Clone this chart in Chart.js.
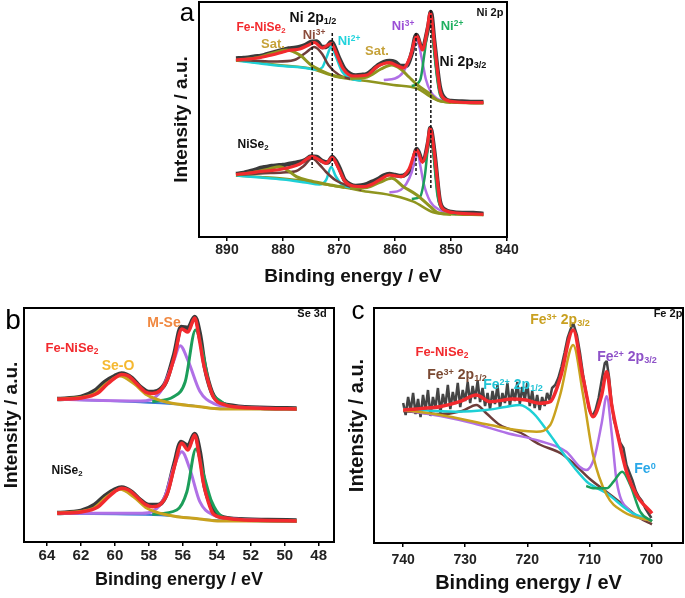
<!DOCTYPE html>
<html>
<head>
<meta charset="utf-8">
<script src="https://cdn.jsdelivr.net/npm/chart.js@4.4.1/dist/chart.umd.min.js"></script>
<style>
  html, body { margin: 0; padding: 0; background: #fff; }
  #wrap { position: relative; width: 685px; height: 598px; overflow: hidden; background: #fff; }
  canvas { position: absolute; }
  .lbl { position: absolute; transform: translate(-50%, -50%); white-space: nowrap; line-height: 1;
         font-family: 'Liberation Sans', Arial, sans-serif; font-weight: bold; }
  .lbl sup { font-size: 0.65em; vertical-align: 0.45em; }
  .lbl sub { font-size: 0.65em; vertical-align: -0.25em; }
  .big { font-weight: normal; }
</style>
</head>
<body>
<div id="wrap">
  <canvas id="chartA" width="360" height="290" style="left:160px;top:0"></canvas>
  <canvas id="chartB" width="345" height="303" style="left:0;top:295px"></canvas>
  <canvas id="chartC" width="345" height="303" style="left:340px;top:295px"></canvas>

  <!-- panel a labels -->
  <div class="lbl big" style="left:187px;top:12px;font-size:26px">a</div>
  <div class="lbl" style="left:490px;top:12px;font-size:11px;color:#111">Ni 2p</div>
  <div class="lbl" style="left:261px;top:28px;font-size:12px;color:#f22a2e">Fe-NiSe<sub>2</sub></div>
  <div class="lbl" style="left:273px;top:43px;font-size:13px;color:#c6a23a">Sat.</div>
  <div class="lbl" style="left:313px;top:18px;font-size:14px;color:#111">Ni 2p<sub>1/2</sub></div>
  <div class="lbl" style="left:314px;top:34px;font-size:13px;color:#8b4b3b">Ni<sup>3+</sup></div>
  <div class="lbl" style="left:349px;top:40px;font-size:13px;color:#22d3dc">Ni<sup>2+</sup></div>
  <div class="lbl" style="left:377px;top:50px;font-size:13px;color:#c6a23a">Sat.</div>
  <div class="lbl" style="left:403px;top:25px;font-size:13px;color:#9b4fd6">Ni<sup>3+</sup></div>
  <div class="lbl" style="left:452px;top:25px;font-size:13px;color:#20b060">Ni<sup>2+</sup></div>
  <div class="lbl" style="left:463px;top:62px;font-size:14px;color:#111">Ni 2p<sub>3/2</sub></div>
  <div class="lbl" style="left:253px;top:145px;font-size:12px;color:#111">NiSe<sub>2</sub></div>

  <!-- panel b labels -->
  <div class="lbl big" style="left:13px;top:320px;font-size:28px">b</div>
  <div class="lbl" style="left:312px;top:313px;font-size:11px;color:#111">Se 3d</div>
  <div class="lbl" style="left:164px;top:322px;font-size:14px;color:#f08840">M-Se</div>
  <div class="lbl" style="left:72px;top:348px;font-size:13px;color:#f22a2e">Fe-NiSe<sub>2</sub></div>
  <div class="lbl" style="left:118px;top:365px;font-size:14px;color:#f5b830">Se-O</div>
  <div class="lbl" style="left:67px;top:471px;font-size:12px;color:#111">NiSe<sub>2</sub></div>

  <!-- panel c labels -->
  <div class="lbl big" style="left:358px;top:310px;font-size:26px">c</div>
  <div class="lbl" style="left:668px;top:313px;font-size:11px;color:#111">Fe 2p</div>
  <div class="lbl" style="left:560px;top:320px;font-size:14px;color:#c9a020">Fe<sup>3+</sup> 2p<sub>3/2</sub></div>
  <div class="lbl" style="left:442px;top:352px;font-size:13px;color:#f22a2e">Fe-NiSe<sub>2</sub></div>
  <div class="lbl" style="left:457px;top:375px;font-size:14px;color:#7b4a33">Fe<sup>3+</sup> 2p<sub>1/2</sub></div>
  <div class="lbl" style="left:513px;top:385px;font-size:14px;color:#22c4d6">Fe<sup>2+</sup> 2p<sub>1/2</sub></div>
  <div class="lbl" style="left:627px;top:357px;font-size:14px;color:#8e52c8">Fe<sup>2+</sup> 2p<sub>3/2</sub></div>
  <div class="lbl" style="left:645px;top:468px;font-size:14px;color:#2aa8e8">Fe<sup>0</sup></div>
</div>
<script>
const FONT = "'Liberation Sans', Arial, sans-serif";

// ---------- panel a : Ni 2p  ([binding energy, intensity]) ----------
const aTicks = [890, 880, 870, 860, 850, 840];

const aTopData = [[888.4,178.5],[887,179],[886,179.5],[885,180.5],[884,181],[883,182.5],[882,184],[881,185.5],[880,187],[879,188.5],[878,189],[877,190],[876,192],[875,195],[874,195.5],[873,190],[872.3,190],[871.4,195],[870,179],[869,168],[868,163],[867,161.5],[866,162],[865,163],[864,167],[863,172],[862,175],[861,176],[860,175],[859,171],[858,171],[857,184],[856.2,202],[855.2,189],[854,212],[853.6,225],[853,196],[852,150],[851,138],[850,136],[848,135.5],[846,135],[844.2,135]];
const aTopFit = [[888.4,177],[886,178],[884,179.5],[882,182],[880,185],[879,186.5],[877,188],[875.6,191.5],[874.4,194.5],[873,189],[871.4,193.5],[870.3,181],[869.3,168.7],[867.5,161],[865,162],[863.3,170],[861,174.3],[859.5,171],[858.5,169],[857.3,180],[856.1,201],[855.1,187],[854.3,205],[853.7,224],[853,195],[852.4,165],[851.9,145],[850.8,137],[849,135],[844.2,134.3]];
const aTopBg = [[888.4,177],[884,174],[880,171.5],[875.3,168.7],[870.5,160.3],[865,156],[860.3,152],[856.1,148.7],[853.2,138.7],[851,135],[844.2,133.7]];
const aTopSat1 = [[888.4,176.5],[885,179],[882,183.5],[879.4,187],[877,182],[875,172],[873,166],[871,161.5],[869,159.5]];
const aTopNi3a = [[888.4,177],[884,176],[881,175.5],[878,177],[876,184],[874.4,190],[873,183],[871.9,172],[870,162],[868,158]];
const aTopNi2a = [[888.4,176.5],[884,173.5],[880,171],[876,169],[874,167.5],[873,169.5],[872.2,180],[871.4,190],[870.6,181],[869.5,166],[868,158.5],[866,156.5]];
const aTopSat2 = [[868,158.5],[865,160],[862.5,168],[860.6,172],[859,168],[857.5,160],[856,152],[854,144],[852.5,137],[850,134.5]];
const aTopNi3b = [[862,157],[860,158.5],[858.5,165],[857.3,180],[856.1,198],[855.2,178],[854.5,158],[853.7,146],[852.5,138.5],[851,135]];
const aTopNi2b = [[857,151],[855.5,157],[854.7,185],[853.7,221],[853.0,185],[852.5,160],[852,143],[851,137],[849,135]];

const aBotData = [[888.4,63],[887,64],[886,65.5],[885,67],[884,69],[883,70],[882,71],[881,71.5],[880,72],[879,73],[878,74],[877,75],[876,77],[875,80.5],[874,80],[873,76],[872,74.5],[871.2,80],[870,70],[869,57],[868,52.5],[867,51],[866,51.5],[865,53],[864,55.5],[863,58],[862,61.5],[861,63],[860,62],[859,61],[858,63],[857,70],[856.1,88],[855.1,76],[854,97],[853.7,109],[853,86],[852,36],[851,27],[850,25],[848,24],[846,24],[844.2,23]];
const aBotFit = [[888.4,62.5],[886,64],[884,65.5],[882,66.5],[880.6,67.5],[878.5,70],[877,73],[874.8,80.3],[873.5,77],[872.3,73.7],[871.2,79.3],[870.2,70],[869,56],[867.5,51],[865.7,50.3],[864,53],[862.5,58],[861,62],[859.8,61],[858.8,60.3],[857.5,68],[856.1,87],[855.1,74.7],[854.4,85],[853.7,108.7],[853,85],[852.4,55],[851.9,33],[850.8,26],[849,24],[844.2,22.7]];
const aBotBg = [[888.4,61.5],[884,60],[880.6,58.7],[876,56],[871.7,52],[868,48.5],[865.7,46],[860,41],[856.7,35.3],[853.2,24.7],[851,23],[844.2,22]];
const aBotSat1 = [[888.4,62],[885,65],[882.5,68],[880.6,70.3],[879,66],[877.6,60.3],[875,56],[872,52.5],[869,49.5]];
const aBotNi3a = [[888.4,62],[884,63.5],[880,64.5],[877.6,66],[876.3,71],[874.8,78.7],[873.5,72.5],[872.3,65],[870.6,56.7],[868.8,52],[866,47]];
const aBotNi2a = [[888.4,61.5],[884,59.5],[880,57.5],[876,54.5],[873.5,52.5],[872.3,57],[871.4,70],[870.6,61],[869.5,52.5],[867.5,49]];
const aBotSat2 = [[868,48.5],[865,49.5],[862.7,54.7],[860.6,58.7],[858.5,50.3],[856.1,42],[853.7,30.3],[852.5,24.7],[850,22.5]];
const aBotNi3b = [[861,44.5],[859,47],[858,53],[857,65],[856.1,85.3],[855.3,66],[854.9,54],[853.7,35.3],[852,27],[850,23]];
const aBotNi2b = [[857,38],[855.5,40.5],[854.7,60],[853.7,105],[853.0,75],[852.5,45],[852,32],[850.8,26],[849,23]];

const aDash1 = [[874.8,195],[874.8,69]];
const aDash2 = [[871.2,204],[871.2,69]];
const aDash3 = [[856.25,204],[856.25,62]];
const aDash4 = [[853.6,227],[853.6,47]];

// ---------- panel b : Se 3d ----------
const bTicks = [64, 62, 60, 58, 56, 54, 52, 50, 48];

const bTopData = [[63.4,143],[62,145],[61.2,151],[60.6,160],[60,166],[59.6,168.5],[59,164],[58.5,155],[58,150],[57.5,151],[57,160],[56.5,188],[56.1,215],[55.7,214],[55.3,225],[55,208],[54.7,175],[54.3,150],[54,142],[53,136],[51,134],[49.3,133.5]];
const bTopFit = [[63.4,142.7],[62,144],[61,149],[60.5,157],[60,164],[59.6,167.5],[59.2,166],[58.7,158],[58.2,150],[57.8,148.5],[57.3,152],[56.9,163],[56.5,185],[56.06,213],[55.7,210],[55.3,224],[55,200],[54.8,180],[54.5,160],[54.2,145],[53.5,137],[53,135.3],[51,133.5],[49.3,133]];
const bTopBg = [[63.4,142.5],[58.5,139.7],[55.7,137],[54.2,133.7],[49.3,132.7]];
const bTopSeO = [[63.4,142.7],[61.26,147.7],[60.47,158.7],[59.7,166],[58.9,158.7],[58.1,147],[56.9,139.7],[55,135.3],[53.8,133],[49.3,133]];
const bTopP = [[63.4,142.7],[58.5,141],[57.3,150.7],[56.55,180.3],[56.16,196.3],[55.67,180.3],[55,150.7],[54.2,138.7],[53,135.3],[49.3,133]];
const bTopG = [[57.8,140.3],[56.55,145.3],[55.86,160.3],[55.25,212],[54.8,187],[54.4,153.7],[53.8,141],[53,135.3],[49.3,133]];

const bBotData = [[63.4,29],[62,31],[61.2,37],[60.6,46],[60,52.5],[59.6,54.5],[59,50],[58.5,42],[58,37],[57.5,37],[57,46],[56.5,78],[56.1,100],[55.7,96],[55.3,108],[55,90],[54.7,55],[54.3,35],[54,28],[53,23],[51,22],[49.3,21.5]];
const bBotFit = [[63.4,28.7],[62,30],[61,35],[60.5,43],[60,50.5],[59.6,53.7],[59.2,52],[58.7,45],[58.2,37.5],[57.8,35.3],[57.3,38],[56.9,49],[56.5,75],[56.06,98.7],[55.7,92],[55.3,107],[55,82],[54.8,60],[54.5,40],[54.2,28],[53.5,24],[53,22.7],[51,21.5],[49.3,21]];
const bBotBg = [[63.4,28.3],[56.9,26.3],[54,21.7],[49.3,20.7]];
const bBotSeO = [[63.4,28.7],[61.26,33.7],[60.47,45.3],[59.7,52.7],[58.9,45.3],[58.1,33.7],[56.9,27],[55,23],[53.8,21],[49.3,21]];
const bBotP = [[63.4,28.7],[58.4,28.7],[57.1,43.7],[56.55,73.7],[56.06,90.3],[55.6,73.7],[55,40.3],[54.2,27],[53,23],[49.3,21]];
const bBotG = [[57.8,27.7],[56.36,32],[55.76,50.3],[55.23,93],[54.77,67],[54.3,40.3],[53.7,25.3],[52.8,22],[49.3,21]];

// ---------- panel c : Fe 2p ----------
const cTicks = [740, 730, 720, 710, 700];

const cData = [[740,140],[739.6,128],[739.2,146],[738.8,132],[738.4,150],[738,129],[737.6,144],[737.2,126],[736.8,148],[736.4,133],[736,153],[735.6,127],[735.2,146],[734.8,135],[734.4,155],[734,130],[733.6,149],[733.2,137],[732.8,158],[732.4,134],[732,151],[731.6,139],[731.2,160],[730.8,136],[730.4,153],[730,142],[729.6,161],[729.2,140],[728.8,157],[728.4,144],[728,162],[727.6,141],[727.2,155],[726.8,137],[726.4,150],[726,134],[725.6,152],[725.2,139],[724.8,158],[724.4,135],[724,150],[723.6,140],[723.2,160],[722.8,137],[722.4,154],[722,142],[721.6,161],[721.2,139],[720.8,156],[720.4,143],[720,160],[719.6,137],[719.2,152],[718.8,135],[718.4,148],[718,133],[717.6,146],[717.2,137],[716.8,150],[716.4,143],[716,155],[715.5,158],[715,165],[714.5,176],[714,190],[713.5,205],[713,214],[712.6,220],[712,208],[711.5,190],[711,168],[710.5,150],[710,133],[709.5,127],[709,133],[708.5,145],[708,163],[707.5,180],[707.2,182],[706.8,165],[706.4,140],[706,122],[705.5,112],[705,100],[704.5,95],[704,78],[703.5,70],[703,62],[702.5,52],[702,46],[701.5,42],[701,35],[700.5,30],[700,25]];
const cFit = [[740,133],[737,134.5],[734.1,136.3],[730.9,141.3],[728.2,148],[726,141.3],[722.3,144],[720.2,143],[718,139.7],[716.3,141.3],[714.7,164.7],[712.6,213],[711,164.7],[709.4,126.3],[708,148],[707.2,171.3],[706.4,138.3],[705.3,104.7],[704,71.3],[702.4,48],[699.9,29.7]];
const cFe3a = [[740,132],[734,129],[730.5,132],[728.2,138],[726.6,129.7],[724.4,118],[721,110],[718,98.5],[714.7,90],[712.6,80],[709.9,64],[707.2,51],[704.5,38],[701.8,24.7],[699.9,18.7]];
const cFe2b = [[740,133],[734,127],[728.7,119.7],[723.3,110],[718,102],[713.7,91.3],[711.5,76],[710.5,73],[709.2,85],[708,120],[707.2,146.7],[706.4,110],[705.6,62],[703.4,31.7],[699.9,21.7]];
const cFe3b = [[740,133],[734,128],[726,118],[721.7,113],[718.5,111.3],[716.3,118],[714.7,148],[712.6,198],[711,148],[709.4,88],[707.2,48],[704.5,31.3],[699.9,21.7]];
const cFe2a = [[740,134],[731.4,131.3],[726.6,133],[723.3,136.3],[721.2,138],[719,129.7],[716.3,108],[713.6,84.7],[710.4,61.3],[707.2,49.7],[703.4,31.3],[699.9,22.3]];
const cFe0 = [[710.5,57],[709.4,54.7],[707.2,54.7],[706.1,61.3],[704.7,71.3],[703.4,58],[701.8,31.3],[699.9,21.7]];

// colours
const RED = '#f22a2e', DATA = '#3a3a3a', OLIVE = '#8f951f', BROWN = '#6e3d3a',
      CYAN = '#1ed0d6', PURPLE = '#b070e6', GREEN = '#1c9e5a', GOLD = '#c9a21e', BLUE = '#3a7bd5';

function series(data, color, width, extra) {
  return Object.assign({
    data: data.map(([x, y]) => ({ x, y })),
    borderColor: color, borderWidth: width,
    pointRadius: 0, fill: false,
    cubicInterpolationMode: 'monotone'
  }, extra || {});
}
const straight = { cubicInterpolationMode: 'default', tension: 0, borderJoinStyle: 'bevel' };
const dashed = { cubicInterpolationMode: 'default', tension: 0, borderDash: [3, 2] };

// full black frame round the plot area
const boxPlugin = {
  id: 'box',
  afterDraw(chart) {
    const { ctx, chartArea: a } = chart;
    ctx.save();
    ctx.strokeStyle = '#000';
    ctx.lineWidth = 2;
    ctx.strokeRect(a.left, a.top, a.right - a.left, a.bottom - a.top);
    ctx.restore();
  }
};

function panel(id, p) {
  // first listed is drawn first (bottom)
  const ds = p.datasets.map((d, i, arr) => Object.assign(d, { order: arr.length - i }));
  return new Chart(document.getElementById(id), {
    type: 'line',
    data: { datasets: ds },
    options: {
      responsive: false,
      animation: false,
      layout: { padding: p.pad },
      plugins: { legend: { display: false }, tooltip: { enabled: false } },
      scales: {
        x: {
          type: 'linear', reverse: true, min: p.xMin, max: p.xMax,
          afterBuildTicks: s => { s.ticks = p.ticks.map(v => ({ value: v })); },
          afterFit: s => { s.height = p.xH; s.paddingLeft = 0; s.paddingRight = 0; },
          grid: { display: true, drawOnChartArea: false, drawTicks: true, tickLength: 4, color: '#000', lineWidth: 1.5 },
          border: { display: false },
          ticks: { color: '#222', autoSkip: false, maxRotation: 0, padding: p.tickPad,
                   font: { family: FONT, size: p.tickSize, weight: 'bold' } },
          title: { display: true, text: 'Binding energy / eV', color: '#111',
                   font: { family: FONT, size: p.xTitleSize, weight: 'bold' },
                   padding: { top: 0, bottom: p.xTitlePad } }
        },
        y: {
          min: 0, max: p.yMax,
          afterFit: s => { s.width = p.yW; },
          grid: { display: false }, border: { display: false }, ticks: { display: false },
          title: { display: true, text: 'Intensity / a.u.', color: '#111',
                   font: { family: FONT, size: p.yTitleSize, weight: 'bold' },
                   padding: { top: p.yTitlePad, bottom: 0 } }
        }
      }
    },
    plugins: [boxPlugin]
  });
}

window.addEventListener('DOMContentLoaded', () => {
  panel('chartA', {
    xMin: 840, xMax: 895, yMax: 235, ticks: aTicks,
    pad: { left: 0, top: 2, right: 13, bottom: 0 }, yW: 39, xH: 53,
    tickSize: 14, tickPad: 1, xTitleSize: 19, xTitlePad: 1.6, yTitleSize: 19, yTitlePad: 10.6,
    datasets: [
      series(aTopData, DATA, 4.5), series(aBotData, DATA, 4.5),
      series(aTopBg, OLIVE, 2.5), series(aBotBg, OLIVE, 2.5),
      series(aTopNi2a, CYAN, 2.5), series(aBotNi2a, CYAN, 2.5),
      series(aTopNi3a, BROWN, 2.5), series(aBotNi3a, BROWN, 2.5),
      series(aTopNi3b, PURPLE, 2.5), series(aBotNi3b, PURPLE, 2.5),
      series(aTopNi2b, GREEN, 2.5), series(aBotNi2b, GREEN, 2.5),
      series(aTopSat1, OLIVE, 3), series(aBotSat1, OLIVE, 3),
      series(aTopSat2, OLIVE, 3), series(aBotSat2, OLIVE, 3),
      series(aTopFit, RED, 3.2), series(aBotFit, RED, 3.2),
      series(aDash1, '#111', 1.5, dashed), series(aDash2, '#111', 1.5, dashed),
      series(aDash3, '#111', 1.5, dashed), series(aDash4, '#111', 1.5, dashed)
    ]
  });

  panel('chartB', {
    xMin: 47.1, xMax: 65.35, yMax: 234, ticks: bTicks,
    pad: { left: 0, top: 13, right: 11, bottom: 0 }, yW: 24, xH: 56,
    tickSize: 15, tickPad: 1, xTitleSize: 18, xTitlePad: 7.2, yTitleSize: 19, yTitlePad: 0,
    datasets: [
      series(bTopData, DATA, 4.5), series(bBotData, DATA, 4.5),
      series(bTopBg, BLUE, 2), series(bBotBg, BLUE, 2),
      series(bTopP, PURPLE, 3), series(bBotP, PURPLE, 3),
      series(bTopG, GREEN, 3), series(bBotG, GREEN, 3),
      series(bTopSeO, GOLD, 3), series(bBotSeO, GOLD, 3),
      series(bTopFit, RED, 3.5), series(bBotFit, RED, 3.5)
    ]
  });

  panel('chartC', {
    xMin: 694.9, xMax: 744.7, yMax: 235, ticks: cTicks,
    pad: { left: 0, top: 13, right: 2, bottom: 0 }, yW: 34, xH: 55,
    tickSize: 14, tickPad: 4.6, xTitleSize: 20, xTitlePad: 3, yTitleSize: 20, yTitlePad: 5,
    datasets: [
      series(cData, '#444', 2.5, straight),
      series(cFe3a, BROWN, 2.5),
      series(cFe2b, PURPLE, 2.5),
      series(cFe2a, CYAN, 2.5),
      series(cFe3b, GOLD, 2.5),
      series(cFe0, GREEN, 2.5),
      series(cFit, RED, 3.5)
    ]
  });
});
</script>
</body>
</html>
